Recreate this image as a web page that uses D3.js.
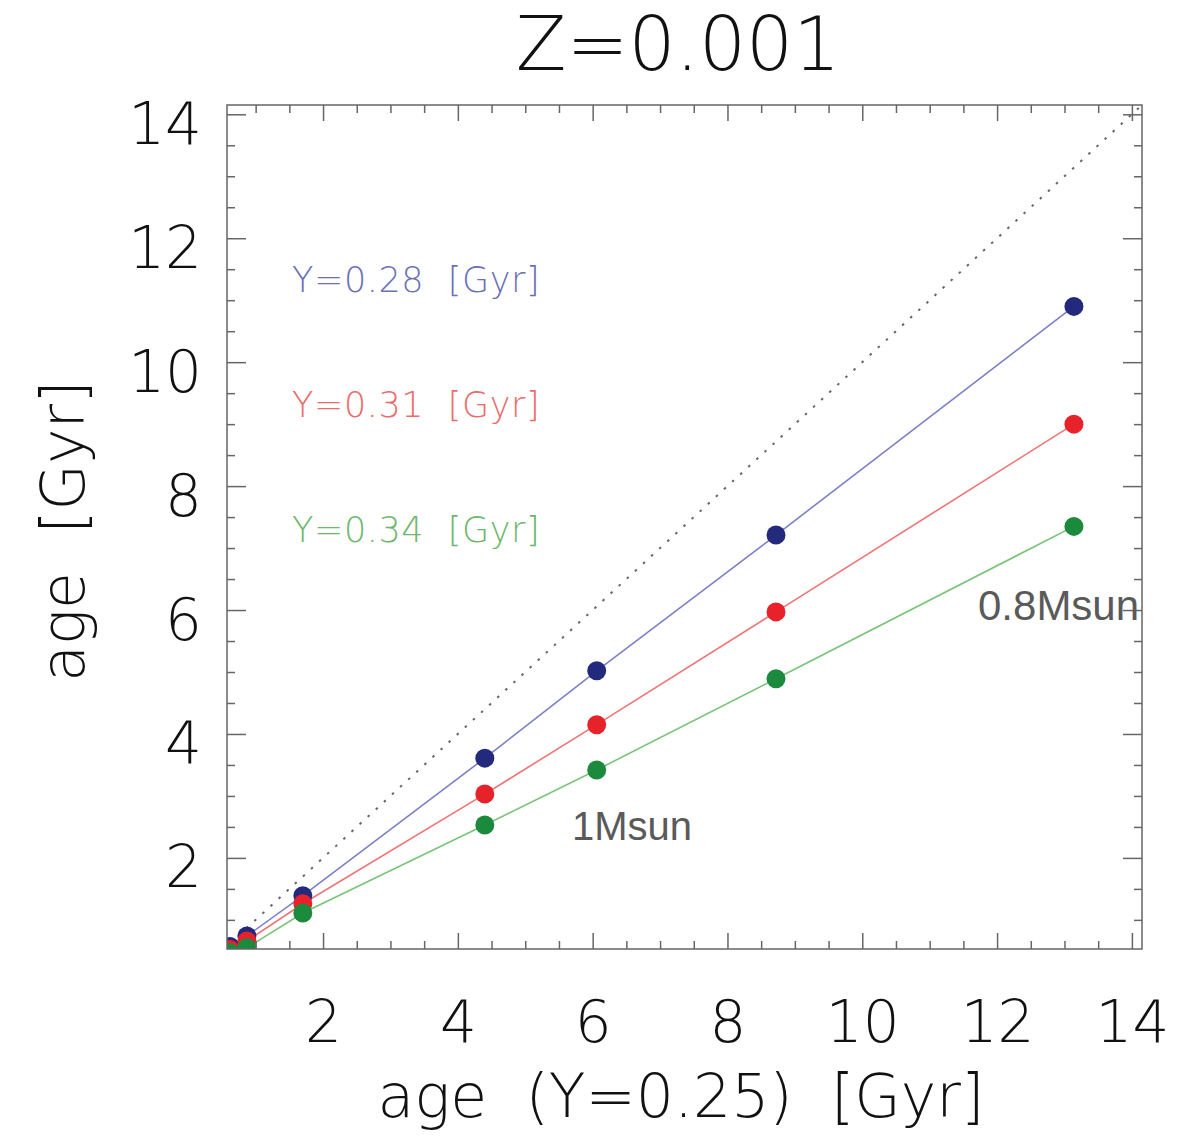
<!DOCTYPE html>
<html>
<head>
<meta charset="utf-8">
<script src="https://cdn.jsdelivr.net/npm/d3@7"></script>
<style>
  body { margin: 0; background: #fff; }
  svg text { font-family: "DejaVu Sans", sans-serif; font-weight: 200; }
</style>
</head>
<body>
<div id="chart"></div>
<script>
var width = 1188;
var height = 1141;

// x: age at Y=0.25 [Gyr]
var xAges = [0.62, 0.87, 1.70, 4.40, 6.06, 8.72, 13.14];
// y: age for the other helium abundances [Gyr]
var ageY028 = [0.57, 0.74, 1.39, 3.61, 5.02, 7.21, 10.90];
var ageY031 = [0.52, 0.66, 1.26, 3.03, 4.15, 5.97, 9.00];
var ageY034 = [0.47, 0.55, 1.11, 2.53, 3.42, 4.89, 7.35];

var seriesNames = ["Y=0.28", "Y=0.31", "Y=0.34"];
var majorTicks = [2, 4, 6, 8, 10, 12, 14];
var minorTicks = [1, 1.5, 2.5, 3, 3.5, 4.5, 5, 5.5, 6.5, 7, 7.5, 8.5, 9, 9.5, 10.5, 11, 11.5, 12.5, 13, 13.5];
var massLabels = [{ text: "1Msun", x: 572, y: 840 }, { text: "0.8Msun", x: 978, y: 620 }];

var seriesStyle = [
    { dot: "#232a7e", line: "#7c80c8", label: "#6b70b8" },
    { dot: "#e8222b", line: "#f07474", label: "#ee6b6b" },
    { dot: "#1c8a3c", line: "#78c478", label: "#6db86d" }
];

var plotLeft = 227, plotRight = 1142, plotTop = 105, plotBottom = 949;

var x = d3.scaleLinear().domain([0.575, 14.15]).range([plotLeft, plotRight]);
var y = d3.scaleLinear().domain([0.53, 14.15]).range([plotBottom, plotTop]);

var svg = d3.select("#chart").append("svg")
    .attr("width", width)
    .attr("height", height);

svg.append("defs").append("clipPath")
    .attr("id", "plotclip")
    .append("rect")
    .attr("x", plotLeft).attr("y", plotTop)
    .attr("width", plotRight - plotLeft).attr("height", plotBottom - plotTop);

// one-to-one line
var plot = svg.append("g").attr("clip-path", "url(#plotclip)");
plot.append("line")
    .attr("x1", x(0.5)).attr("y1", y(0.5))
    .attr("x2", x(14.2)).attr("y2", y(14.2))
    .attr("stroke", "#666")
    .attr("stroke-width", 2)
    .attr("stroke-dasharray", "2.5,8.5");

var series = [ageY028, ageY031, ageY034];
var line = d3.line()
    .x(function(d) { return x(d[0]); })
    .y(function(d) { return y(d[1]); });

series.forEach(function(vals, i) {
    var pts = xAges.map(function(a, j) { return [a, vals[j]]; });
    plot.append("path")
        .datum(pts)
        .attr("d", line)
        .attr("fill", "none")
        .attr("stroke", seriesStyle[i].line)
        .attr("stroke-width", 1.6);
});

series.forEach(function(vals, i) {
    var pts = xAges.map(function(a, j) { return [a, vals[j]]; });
    plot.selectAll(".dot" + i)
        .data(pts)
        .enter().append("circle")
        .attr("cx", function(d) { return x(d[0]); })
        .attr("cy", function(d) { return y(d[1]); })
        .attr("r", 9.5)
        .attr("fill", seriesStyle[i].dot);
});

// axes, ticks inward on all four sides
function styleAxis(g) {
    g.select(".domain").remove();
    g.selectAll(".tick line").attr("stroke", "#666").attr("stroke-width", 1.5);
    g.selectAll("text").attr("fill", "#111").style("font-size", "58px")
        .style("font-family", "DejaVu Sans, sans-serif").style("font-weight", 200);
}

svg.append("g").attr("transform", "translate(0," + plotBottom + ")")
    .call(d3.axisBottom(x).tickValues(majorTicks).tickSize(-16).tickPadding(52).tickFormat(d3.format("d")))
    .call(styleAxis);
svg.append("g").attr("transform", "translate(0," + plotBottom + ")")
    .call(d3.axisBottom(x).tickValues(minorTicks).tickSize(-8).tickFormat(""))
    .call(styleAxis);
svg.append("g").attr("transform", "translate(0," + plotTop + ")")
    .call(d3.axisTop(x).tickValues(majorTicks).tickSize(-16).tickFormat(""))
    .call(styleAxis);
svg.append("g").attr("transform", "translate(0," + plotTop + ")")
    .call(d3.axisTop(x).tickValues(minorTicks).tickSize(-8).tickFormat(""))
    .call(styleAxis);

var yLeft = svg.append("g").attr("transform", "translate(" + plotLeft + ",0)")
    .call(d3.axisLeft(y).tickValues(majorTicks).tickSize(-19).tickPadding(25).tickFormat(d3.format("d")))
    .call(styleAxis);
yLeft.selectAll("text").attr("dy", "0.5em");
svg.append("g").attr("transform", "translate(" + plotLeft + ",0)")
    .call(d3.axisLeft(y).tickValues(minorTicks).tickSize(-8).tickFormat(""))
    .call(styleAxis);
svg.append("g").attr("transform", "translate(" + plotRight + ",0)")
    .call(d3.axisRight(y).tickValues(majorTicks).tickSize(-19).tickFormat(""))
    .call(styleAxis);
svg.append("g").attr("transform", "translate(" + plotRight + ",0)")
    .call(d3.axisRight(y).tickValues(minorTicks).tickSize(-8).tickFormat(""))
    .call(styleAxis);

svg.append("rect")
    .attr("x", plotLeft).attr("y", plotTop)
    .attr("width", plotRight - plotLeft).attr("height", plotBottom - plotTop)
    .attr("fill", "none")
    .attr("stroke", "#666")
    .attr("stroke-width", 1.5);

// title and axis titles
svg.append("text")
    .attr("x", 678).attr("y", 70)
    .attr("text-anchor", "middle")
    .style("font-size", "74px")
    .attr("fill", "#111")
    .text("Z=0.001");

svg.append("text")
    .attr("x", 681).attr("y", 1117)
    .attr("text-anchor", "middle")
    .style("font-size", "60px")
    .style("white-space", "pre")
    .attr("fill", "#111")
    .text("age  (Y=0.25)  [Gyr]");

svg.append("text")
    .attr("transform", "translate(84,531) rotate(-90)")
    .attr("text-anchor", "middle")
    .style("font-size", "60px")
    .style("white-space", "pre")
    .attr("fill", "#111")
    .text("age  [Gyr]");

// series labels
svg.selectAll(".serieslabel")
    .data(seriesNames)
    .enter().append("text")
    .attr("x", 292)
    .attr("y", function(d, i) { return 292 + i * 125; })
    .style("font-size", "35px")
    .style("letter-spacing", "0.6px")
    .style("white-space", "pre")
    .attr("fill", function(d, i) { return seriesStyle[i].label; })
    .text(function(d) { return d + "  [Gyr]"; });

// mass labels
svg.selectAll(".masslabel")
    .data(massLabels)
    .enter().append("text")
    .attr("x", function(d) { return d.x; })
    .attr("y", function(d) { return d.y; })
    .style("font-family", "Liberation Sans, Arial, sans-serif")
    .style("font-weight", 400)
    .style("font-size", function(d, i) { return i === 0 ? "40px" : "42px"; })
    .attr("fill", "#5a5a5a")
    .text(function(d) { return d.text; });
</script>
</body>
</html>
